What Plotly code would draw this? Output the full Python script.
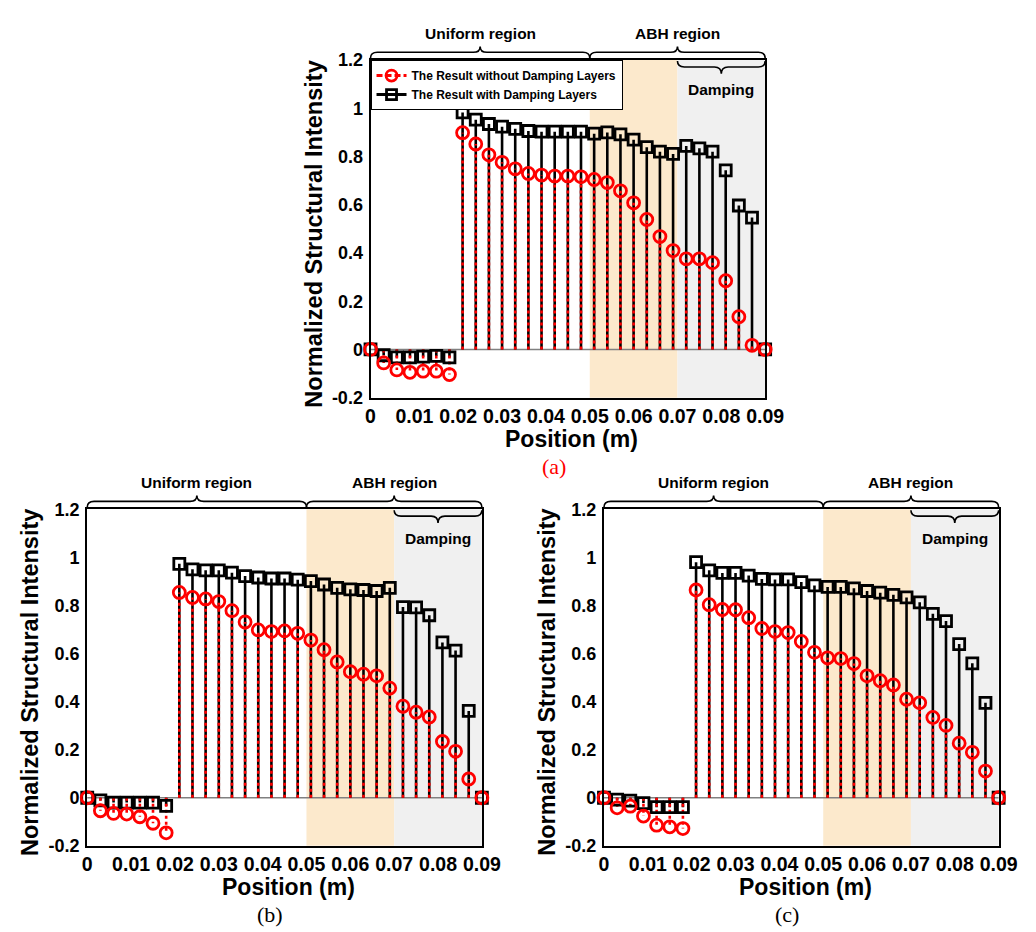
import plotly.graph_objects as go

# ---------------- data ----------------
positions = [0.000, 0.003, 0.006, 0.009, 0.012, 0.015, 0.018, 0.021, 0.024, 0.027,
             0.030, 0.033, 0.036, 0.039, 0.042, 0.045, 0.048, 0.051, 0.054, 0.057,
             0.060, 0.063, 0.066, 0.069, 0.072, 0.075, 0.078, 0.081, 0.084, 0.087, 0.090]

a_without = [0, -0.056, -0.085, -0.095, -0.090, -0.090, -0.104, 0.899, 0.852, 0.807, 0.776,
             0.749, 0.730, 0.723, 0.719, 0.719, 0.716, 0.705, 0.692, 0.658, 0.608, 0.539,
             0.468, 0.410, 0.376, 0.376, 0.360, 0.285, 0.136, 0.017, 0]
a_with = [0, -0.024, -0.033, -0.033, -0.030, -0.027, -0.033, 0.983, 0.953, 0.935, 0.924,
          0.915, 0.906, 0.903, 0.903, 0.903, 0.903, 0.895, 0.900, 0.892, 0.870, 0.839,
          0.820, 0.811, 0.844, 0.834, 0.820, 0.743, 0.597, 0.547, 0]

b_without = [0, -0.054, -0.065, -0.068, -0.079, -0.106, -0.146, 0.854, 0.833, 0.827, 0.816,
             0.778, 0.731, 0.698, 0.691, 0.694, 0.684, 0.656, 0.616, 0.565, 0.524, 0.514,
             0.507, 0.456, 0.381, 0.356, 0.336, 0.234, 0.193, 0.078, 0]
b_with = [0, -0.011, -0.020, -0.020, -0.020, -0.020, -0.034, 0.973, 0.950, 0.946, 0.946,
          0.936, 0.922, 0.916, 0.912, 0.912, 0.907, 0.901, 0.887, 0.873, 0.867, 0.864,
          0.860, 0.873, 0.793, 0.792, 0.759, 0.646, 0.612, 0.361, 0]

c_without = [0, -0.042, -0.035, -0.076, -0.114, -0.121, -0.128, 0.864, 0.803, 0.783, 0.782,
             0.749, 0.704, 0.691, 0.687, 0.650, 0.605, 0.582, 0.579, 0.558, 0.507, 0.487,
             0.469, 0.410, 0.395, 0.334, 0.301, 0.227, 0.189, 0.111, 0]
c_with = [0, -0.008, -0.012, -0.022, -0.039, -0.039, -0.039, 0.980, 0.946, 0.935, 0.935,
          0.924, 0.910, 0.908, 0.908, 0.897, 0.883, 0.877, 0.877, 0.871, 0.860, 0.853,
          0.844, 0.833, 0.813, 0.765, 0.735, 0.639, 0.559, 0.395, 0]

x_tickvals = [0, 0.01, 0.02, 0.03, 0.04, 0.05, 0.06, 0.07, 0.08, 0.09]
x_ticktext = ["0", "0.01", "0.02", "0.03", "0.04", "0.05", "0.06", "0.07", "0.08", "0.09"]
y_tickvals = [-0.2, 0, 0.2, 0.4, 0.6, 0.8, 1.0, 1.2]
y_ticktext = ["-0.2", "0", "0.2", "0.4", "0.6", "0.8", "1", "1.2"]

region_bounds = [0.0, 0.05, 0.07, 0.09]   # uniform | ABH | damping
region_labels = ["Uniform region", "ABH region", "Damping"]
legend_names = ["The Result without Damping Layers", "The Result with Damping Layers"]
captions = ["(a)", "(b)", "(c)"]

# ---------------- layout geometry ----------------
W, H = 1036, 932
# pixel boxes of the three plot areas: (left, right, top, bottom)
boxes = [(366, 770, 43, 388), (76, 480, 502, 846), (605, 1009, 502, 846)]
XMIN, XMAX = 0.0, 0.09

def px(x):
    return x / W

def py(y):
    return 1 - y / H

def data_to_px(box, xv):
    l, r, t, b = box
    return l + (xv - XMIN) / (XMAX - XMIN) * (r - l)

def stems(xs, ys):
    sx, sy = [], []
    for xv, yv in zip(xs, ys):
        sx += [xv, xv, None]
        sy += [0, yv, None]
    return sx, sy

FONT = "Liberation Sans, Arial, sans-serif"
RED = "#ff0000"

fig = go.Figure()
panels = [(a_without, a_with), (b_without, b_with), (c_without, c_with)]

for i, (wo, wi) in enumerate(panels):
    xa = "x" if i == 0 else f"x{i+1}"
    ya = "y" if i == 0 else f"y{i+1}"
    sx, sy = stems(positions, wi)
    fig.add_trace(go.Scatter(x=sx, y=sy, mode="lines", xaxis=xa, yaxis=ya,
                             line=dict(color="black", width=2.6), showlegend=False,
                             hoverinfo="skip"))
    sx, sy = stems(positions, wo)
    fig.add_trace(go.Scatter(x=sx, y=sy, mode="lines", xaxis=xa, yaxis=ya,
                             line=dict(color=RED, width=2.6, dash="3px,3px"),
                             showlegend=False, hoverinfo="skip"))
    fig.add_trace(go.Scatter(x=positions, y=wi, mode="markers", xaxis=xa, yaxis=ya,
                             marker=dict(symbol="square-open", size=11, color="black",
                                         line=dict(width=2.8, color="black")),
                             cliponaxis=False, showlegend=False))
    fig.add_trace(go.Scatter(x=positions, y=wo, mode="markers", xaxis=xa, yaxis=ya,
                             marker=dict(symbol="circle-open", size=12, color=RED,
                                         line=dict(width=2.8, color=RED)),
                             cliponaxis=False, showlegend=False))

# legend-only traces
fig.add_trace(go.Scatter(x=[None], y=[None], mode="lines+markers", name=legend_names[0],
                         line=dict(color=RED, width=3, dash="6px,3px"),
                         marker=dict(symbol="circle-open", size=11, color=RED,
                                     line=dict(width=2.8, color=RED))))
fig.add_trace(go.Scatter(x=[None], y=[None], mode="lines+markers", name=legend_names[1],
                         line=dict(color="black", width=3),
                         marker=dict(symbol="square-open", size=10, color="black",
                                     line=dict(width=2.8, color="black"))))

shapes = []
annotations = []
layout_axes = {}

for i, box in enumerate(boxes):
    l, r, t, b = box
    sfx = "" if i == 0 else str(i + 1)
    xa = "x" + sfx
    ya = "y" + sfx
    layout_axes["xaxis" + sfx] = dict(
        domain=[px(l), px(r)], anchor=ya, range=[XMIN, XMAX],
        tickvals=x_tickvals, ticktext=x_ticktext, ticks="",
        showline=True, linecolor="black", linewidth=2, mirror=True,
        showgrid=False, zeroline=False,
        tickfont=dict(family=FONT, size=19.5, color="black", weight="bold"))
    layout_axes["yaxis" + sfx] = dict(
        domain=[py(b), py(t)], anchor=xa, range=[-0.2, 1.2],
        tickvals=y_tickvals, ticktext=y_ticktext, ticks="",
        showline=True, linecolor="black", linewidth=2, mirror=True,
        showgrid=False, zeroline=False, ticklabelstandoff=2,
        tickfont=dict(family=FONT, size=18, color="black", weight="bold"))

    shapes.append(dict(type="rect", xref=xa, yref=ya + " domain",
                       x0=region_bounds[1], x1=region_bounds[2], y0=0, y1=1,
                       fillcolor="#fce9cc", line=dict(width=0), layer="below"))
    shapes.append(dict(type="rect", xref=xa, yref=ya + " domain",
                       x0=region_bounds[2], x1=region_bounds[3], y0=0, y1=1,
                       fillcolor="#f0f0f0", line=dict(width=0), layer="below"))
    shapes.append(dict(type="line", xref=xa + " domain", yref=ya,
                       x0=0, x1=1, y0=0, y1=0,
                       line=dict(color="#808080", width=1.5), layer="below"))

    def brace(x0d, x1d, yend, ymid, ytip, r=7):
        X0 = data_to_px(box, x0d)
        X1 = data_to_px(box, x1d)
        XM = (X0 + X1) / 2
        pts = (f"M {px(X0)},{py(yend)} Q {px(X0)},{py(ymid)} {px(X0 + r)},{py(ymid)} "
               f"L {px(XM - r)},{py(ymid)} Q {px(XM)},{py(ymid)} {px(XM)},{py(ytip)} "
               f"Q {px(XM)},{py(ymid)} {px(XM + r)},{py(ymid)} "
               f"L {px(X1 - r)},{py(ymid)} Q {px(X1)},{py(ymid)} {px(X1)},{py(yend)}")
        return dict(type="path", xref="paper", yref="paper", path=pts,
                    line=dict(color="black", width=1.6), layer="above")

    shapes.append(brace(region_bounds[0], region_bounds[1], t - 2, t - 8, t - 14))
    shapes.append(brace(region_bounds[1], region_bounds[3], t - 2, t - 8, t - 14))
    shapes.append(brace(region_bounds[2], region_bounds[3], t + 1, t + 7, t + 14))

    for (x0d, x1d, yy, lab) in [
            (region_bounds[0], region_bounds[1], t - 27, region_labels[0]),
            (region_bounds[1], region_bounds[3], t - 27, region_labels[1]),
            (region_bounds[2], region_bounds[3], t + 30, region_labels[2])]:
        xm = (data_to_px(box, x0d) + data_to_px(box, x1d)) / 2
        annotations.append(dict(x=px(xm), y=py(yy), xref="paper", yref="paper",
                                text=lab, showarrow=False, xanchor="center", yanchor="middle",
                                font=dict(family=FONT, size=15.5, color="black", weight="bold")))

    annotations.append(dict(x=px((l + r) / 2 + 4), y=py(b + 42), xref="paper", yref="paper",
                            text="Position (m)", showarrow=False, xanchor="center",
                            yanchor="middle",
                            font=dict(family=FONT, size=23, color="black", weight="bold")))
    annotations.append(dict(x=px(l - 58), y=py((t + b) / 2 + 5), xref="paper", yref="paper",
                            text="Normalized Structural Intensity", showarrow=False,
                            textangle=-90, xanchor="center", yanchor="middle",
                            font=dict(family=FONT, size=23.5, color="black", weight="bold")))
    annotations.append(dict(x=px((l + r) / 2 - 14 if i == 0 else (l + r) / 2 - 15),
                            y=py(b + 70),
                            xref="paper", yref="paper", text=captions[i], showarrow=False,
                            xanchor="center", yanchor="middle",
                            font=dict(family="Liberation Serif, Times New Roman, serif", size=22,
                                      color=RED if i == 0 else "black")))

fig.update_layout(
    width=W, height=H, margin=dict(l=0, r=0, t=0, b=0),
    paper_bgcolor="white", plot_bgcolor="white",
    showlegend=True,
    legend=dict(x=px(366), y=py(43), xanchor="left", yanchor="top",
                bgcolor="white", bordercolor="black", borderwidth=1,
                font=dict(family=FONT, size=12, color="black", weight="bold"),
                tracegroupgap=0, itemwidth=30),
    shapes=shapes, annotations=annotations,
    **layout_axes)

fig.write_html("out.html")
